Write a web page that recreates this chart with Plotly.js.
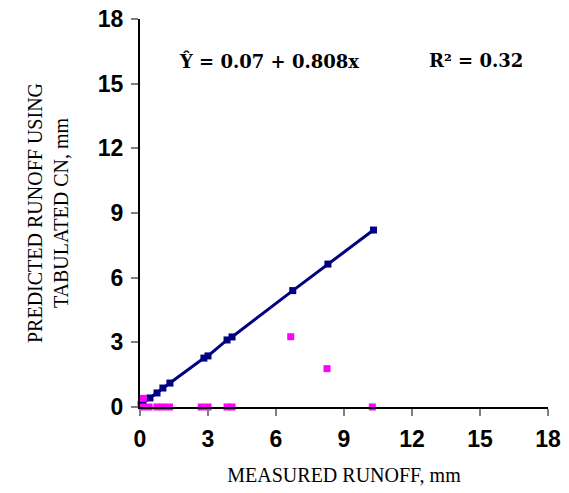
<!DOCTYPE html>
<html>
<head>
<meta charset="utf-8">
<script src="https://cdn.plot.ly/plotly-3.0.1.min.js"></script>
<style>html,body{margin:0;padding:0;background:#fff;}#chart{width:569px;height:493px;}</style>
</head>
<body>
<div id="chart"></div>
<script>
// Fitted line points (blue)
const fitX = [0.05, 0.13, 0.44, 0.75, 1.01, 1.32, 2.82, 3.0, 3.84, 4.06, 6.74, 8.29, 10.3];
const fitY = [0.11, 0.19, 0.42, 0.65, 0.88, 1.11, 2.27, 2.37, 3.11, 3.25, 5.40, 6.63, 8.21];
// Predicted runoff using tabulated CN (magenta)
const predX = [0.15, 0.1, 0.4, 0.75, 1.0, 1.3, 2.7, 3.0, 3.84, 4.06, 6.65, 8.25, 10.25];
const predY = [0.4, 0, 0, 0, 0, 0, 0, 0, 0, 0, 3.26, 1.78, 0];
const tickVals = [0, 3, 6, 9, 12, 15, 18];
const tickText = ['0', '3', '6', '9', '12', '15', '18'];

const traces = [
  {x: fitX, y: fitY, type: 'scatter', mode: 'lines+markers', cliponaxis: false,
   line: {color: '#000080', width: 3}, marker: {symbol: 'square', size: 7, color: '#000080'}},
  {x: predX, y: predY, type: 'scatter', mode: 'markers', cliponaxis: false,
   marker: {symbol: 'square', size: 7, color: '#FF00FF'}}
];
const boldText = tickText.map(t => '<b>' + t + '</b>');
const axisCommon = {
  range: [0, 18], tickvals: tickVals, ticktext: boldText, showgrid: false, zeroline: false,
  showline: true, linecolor: '#000', linewidth: 2, ticks: 'outside', ticklen: 7, tickwidth: 2, tickcolor: '#808080',
  tickfont: {family: 'Liberation Sans', size: 23, color: '#000'}
};
const titleFont = {family: 'Liberation Serif', size: 20, color: '#000'};
const layout = {
  width: 569, height: 493, showlegend: false,
  paper_bgcolor: '#fff', plot_bgcolor: '#fff',
  margin: {l: 140, r: 21, t: 19, b: 86},
  xaxis: Object.assign({}, axisCommon, {
    title: {text: 'MEASURED RUNOFF, mm', font: titleFont, standoff: 17},
    ticklabelstandoff: 3
  }),
  yaxis: Object.assign({}, axisCommon, {
    title: {text: 'PREDICTED RUNOFF USING<br>TABULATED CN, mm', font: titleFont, standoff: 24},
    ticklabelstandoff: 3
  }),
  annotations: [
    {xref: 'paper', yref: 'paper', x: 0.09, y: 0.892, xanchor: 'left', yanchor: 'middle', showarrow: false,
     text: '<b>Ŷ = 0.07 + 0.808x</b>', font: {family: 'DejaVu Serif', size: 18, color: '#000'}},
    {xref: 'paper', yref: 'paper', x: 0.703, y: 0.892, xanchor: 'left', yanchor: 'middle', showarrow: false,
     text: '<b>R² = 0.32</b>', font: {family: 'DejaVu Serif', size: 18, color: '#000'}}
  ]
};
Plotly.newPlot('chart', traces, layout, {displayModeBar: false, staticPlot: true});
</script>
</body>
</html>
